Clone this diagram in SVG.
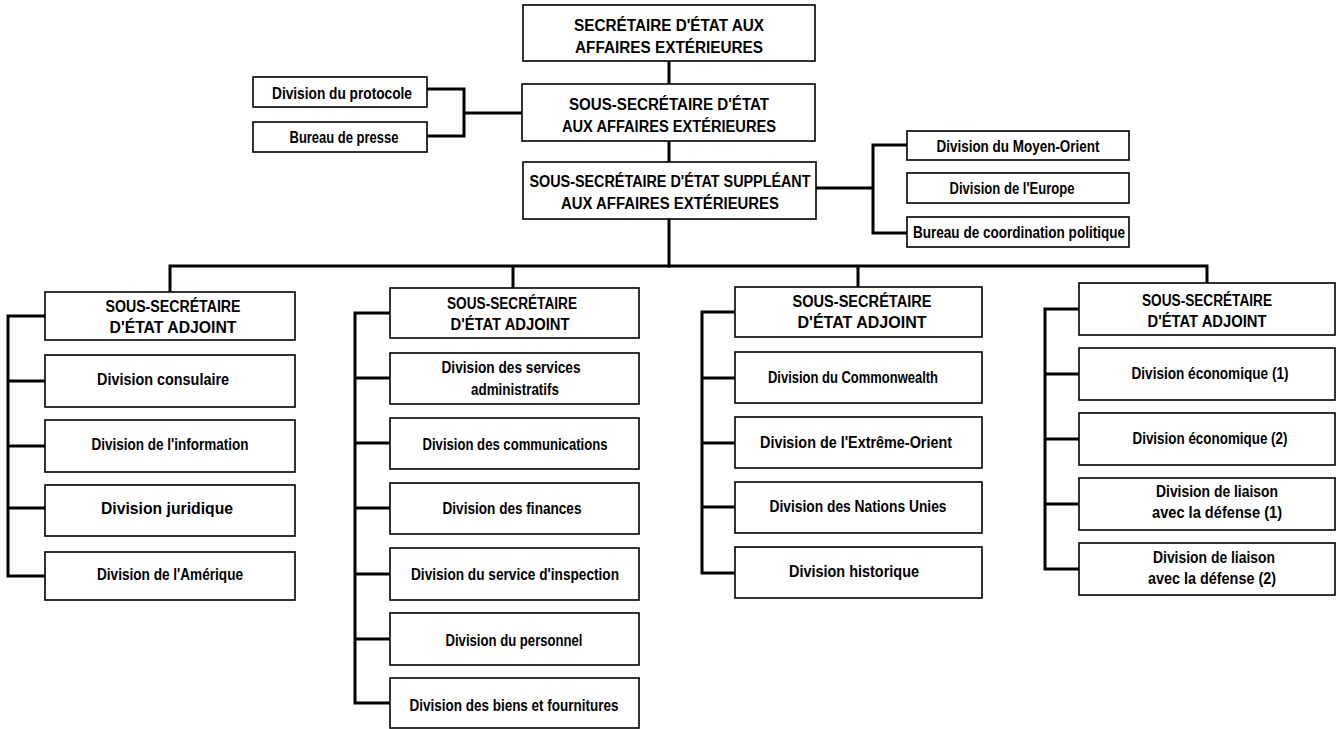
<svg xmlns="http://www.w3.org/2000/svg" width="1337" height="729" viewBox="0 0 1337 729">
  <style>
    .box { fill: #ffffff; stroke: #000000; stroke-width: 1.6; }
    .conn { fill: none; stroke: #000000; stroke-width: 3; stroke-linejoin: miter; stroke-linecap: square; }
    .t { font-family: "Liberation Sans", Arial, sans-serif; font-weight: bold; font-size: 16.5px; text-anchor: middle; fill: #000000; }
    .c { font-size: 16px; }
  </style>
  <rect x="0" y="0" width="1337" height="729" fill="#ffffff"/>

  <!-- connectors -->
  <g id="connectors">
    <path class="conn" d="M669 61 V84 M669 141 V162 M669 219 V266"/>
    <path class="conn" d="M427 89 H464 V136 H427 M464 113 H522"/>
    <path class="conn" d="M816 188 H873 M907 145 H873 V233 H907"/>
    <path class="conn" d="M170 292 V266 H1207 V283 M513 266 V288 M858 266 V287"/>
    <path class="conn" d="M45 316 H8 V576 H45 M8 381 H45 M8 446 H45 M8 508 H45"/>
    <path class="conn" d="M390 313 H355 V703 H390 M355 378 H390 M355 443 H390 M355 508 H390 M355 574 H390 M355 639 H390"/>
    <path class="conn" d="M735 312 H702 V573 H735 M702 378 H735 M702 443 H735 M702 507 H735"/>
    <path class="conn" d="M1079 309 H1045 V569 H1079 M1045 374 H1079 M1045 439 H1079 M1045 504 H1079"/>
  </g>

  <!-- top of the hierarchy -->
  <g id="secretaire">
    <rect class="box" x="523" y="5" width="292" height="56"/>
    <text class="t c" x="669" y="31" textLength="190" lengthAdjust="spacingAndGlyphs">SECRÉTAIRE D'ÉTAT AUX</text>
    <text class="t c" x="669" y="53" textLength="188" lengthAdjust="spacingAndGlyphs">AFFAIRES EXTÉRIEURES</text>
  </g>
  <g id="sous-secretaire">
    <rect class="box" x="522" y="84" width="293" height="57"/>
    <text class="t c" x="669" y="110" textLength="200" lengthAdjust="spacingAndGlyphs">SOUS-SECRÉTAIRE D'ÉTAT</text>
    <text class="t c" x="669" y="132" textLength="214" lengthAdjust="spacingAndGlyphs">AUX AFFAIRES EXTÉRIEURES</text>
  </g>
  <g id="suppleant">
    <rect class="box" x="523" y="162" width="293" height="57"/>
    <text class="t c" x="670" y="187" textLength="281" lengthAdjust="spacingAndGlyphs">SOUS-SECRÉTAIRE D'ÉTAT SUPPLÉANT</text>
    <text class="t c" x="670" y="209" textLength="218" lengthAdjust="spacingAndGlyphs">AUX AFFAIRES EXTÉRIEURES</text>
  </g>

  <!-- staff units -->
  <g id="protocole">
    <rect class="box" x="253" y="77" width="174" height="30"/>
    <text class="t" x="342" y="99" textLength="140" lengthAdjust="spacingAndGlyphs">Division du protocole</text>
  </g>
  <g id="presse">
    <rect class="box" x="253" y="122" width="174" height="30"/>
    <text class="t" x="344" y="143" textLength="109" lengthAdjust="spacingAndGlyphs">Bureau de presse</text>
  </g>
  <g id="moyen-orient">
    <rect class="box" x="907" y="131" width="222" height="29"/>
    <text class="t" x="1018" y="152" textLength="163" lengthAdjust="spacingAndGlyphs">Division du Moyen-Orient</text>
  </g>
  <g id="europe">
    <rect class="box" x="907" y="173" width="222" height="30"/>
    <text class="t" x="1012" y="194" textLength="125" lengthAdjust="spacingAndGlyphs">Division de l'Europe</text>
  </g>
  <g id="coordination">
    <rect class="box" x="907" y="217" width="222" height="30"/>
    <text class="t" x="1019" y="238" textLength="212" lengthAdjust="spacingAndGlyphs">Bureau de coordination politique</text>
  </g>

  <!-- column 1 -->
  <g id="adjoint-1">
    <rect class="box" x="45" y="292" width="250" height="48"/>
    <text class="t c" x="173" y="312" textLength="135" lengthAdjust="spacingAndGlyphs">SOUS-SECRÉTAIRE</text>
    <text class="t c" x="173" y="333" textLength="127" lengthAdjust="spacingAndGlyphs">D'ÉTAT ADJOINT</text>
  </g>
  <g id="consulaire">
    <rect class="box" x="45" y="355" width="250" height="52"/>
    <text class="t" x="163" y="385" textLength="132" lengthAdjust="spacingAndGlyphs">Division consulaire</text>
  </g>
  <g id="information">
    <rect class="box" x="45" y="420" width="250" height="52"/>
    <text class="t" x="170" y="450" textLength="157" lengthAdjust="spacingAndGlyphs">Division de l'information</text>
  </g>
  <g id="juridique">
    <rect class="box" x="45" y="485" width="250" height="51"/>
    <text class="t" x="167" y="514" textLength="132" lengthAdjust="spacingAndGlyphs">Division juridique</text>
  </g>
  <g id="amerique">
    <rect class="box" x="45" y="552" width="250" height="48"/>
    <text class="t" x="170" y="580" textLength="146" lengthAdjust="spacingAndGlyphs">Division de l'Amérique</text>
  </g>

  <!-- column 2 -->
  <g id="adjoint-2">
    <rect class="box" x="390" y="288" width="249" height="50"/>
    <text class="t c" x="512" y="309" textLength="130" lengthAdjust="spacingAndGlyphs">SOUS-SECRÉTAIRE</text>
    <text class="t c" x="510" y="330" textLength="119" lengthAdjust="spacingAndGlyphs">D'ÉTAT ADJOINT</text>
  </g>
  <g id="services-administratifs">
    <rect class="box" x="390" y="353" width="249" height="51"/>
    <text class="t" x="511" y="373" textLength="139" lengthAdjust="spacingAndGlyphs">Division des services</text>
    <text class="t" x="515" y="395" textLength="88" lengthAdjust="spacingAndGlyphs">administratifs</text>
  </g>
  <g id="communications">
    <rect class="box" x="390" y="418" width="249" height="51"/>
    <text class="t" x="515" y="450" textLength="185" lengthAdjust="spacingAndGlyphs">Division des communications</text>
  </g>
  <g id="finances">
    <rect class="box" x="390" y="483" width="249" height="51"/>
    <text class="t" x="512" y="514" textLength="139" lengthAdjust="spacingAndGlyphs">Division des finances</text>
  </g>
  <g id="inspection">
    <rect class="box" x="390" y="548" width="249" height="52"/>
    <text class="t" x="515" y="580" textLength="208" lengthAdjust="spacingAndGlyphs">Division du service d'inspection</text>
  </g>
  <g id="personnel">
    <rect class="box" x="390" y="613" width="249" height="52"/>
    <text class="t" x="514" y="646" textLength="137" lengthAdjust="spacingAndGlyphs">Division du personnel</text>
  </g>
  <g id="biens-fournitures">
    <rect class="box" x="390" y="678" width="249" height="50"/>
    <text class="t" x="514" y="711" textLength="209" lengthAdjust="spacingAndGlyphs">Division des biens et fournitures</text>
  </g>

  <!-- column 3 -->
  <g id="adjoint-3">
    <rect class="box" x="735" y="287" width="247" height="50"/>
    <text class="t c" x="862" y="307" textLength="139" lengthAdjust="spacingAndGlyphs">SOUS-SECRÉTAIRE</text>
    <text class="t c" x="862" y="328" textLength="129" lengthAdjust="spacingAndGlyphs">D'ÉTAT ADJOINT</text>
  </g>
  <g id="commonwealth">
    <rect class="box" x="735" y="352" width="247" height="51"/>
    <text class="t" x="853" y="383" textLength="170" lengthAdjust="spacingAndGlyphs">Division du Commonwealth</text>
  </g>
  <g id="extreme-orient">
    <rect class="box" x="735" y="417" width="247" height="51"/>
    <text class="t" x="856" y="448" textLength="192" lengthAdjust="spacingAndGlyphs">Division de l'Extrême-Orient</text>
  </g>
  <g id="nations-unies">
    <rect class="box" x="735" y="482" width="247" height="51"/>
    <text class="t" x="858" y="512" textLength="177" lengthAdjust="spacingAndGlyphs">Division des Nations Unies</text>
  </g>
  <g id="historique">
    <rect class="box" x="735" y="547" width="247" height="51"/>
    <text class="t" x="854" y="577" textLength="130" lengthAdjust="spacingAndGlyphs">Division historique</text>
  </g>

  <!-- column 4 -->
  <g id="adjoint-4">
    <rect class="box" x="1079" y="283" width="256" height="52"/>
    <text class="t c" x="1207" y="306" textLength="130" lengthAdjust="spacingAndGlyphs">SOUS-SECRÉTAIRE</text>
    <text class="t c" x="1207" y="327" textLength="119" lengthAdjust="spacingAndGlyphs">D'ÉTAT ADJOINT</text>
  </g>
  <g id="economique-1">
    <rect class="box" x="1079" y="348" width="256" height="52"/>
    <text class="t" x="1210" y="379" textLength="157" lengthAdjust="spacingAndGlyphs">Division économique (1)</text>
  </g>
  <g id="economique-2">
    <rect class="box" x="1079" y="413" width="256" height="52"/>
    <text class="t" x="1210" y="444" textLength="155" lengthAdjust="spacingAndGlyphs">Division économique (2)</text>
  </g>
  <g id="liaison-1">
    <rect class="box" x="1079" y="478" width="256" height="52"/>
    <text class="t" x="1217" y="497" textLength="122" lengthAdjust="spacingAndGlyphs">Division de liaison</text>
    <text class="t" x="1217" y="518" textLength="130" lengthAdjust="spacingAndGlyphs">avec la défense (1)</text>
  </g>
  <g id="liaison-2">
    <rect class="box" x="1079" y="543" width="256" height="52"/>
    <text class="t" x="1214" y="563" textLength="122" lengthAdjust="spacingAndGlyphs">Division de liaison</text>
    <text class="t" x="1212" y="584" textLength="128" lengthAdjust="spacingAndGlyphs">avec la défense (2)</text>
  </g>
</svg>
